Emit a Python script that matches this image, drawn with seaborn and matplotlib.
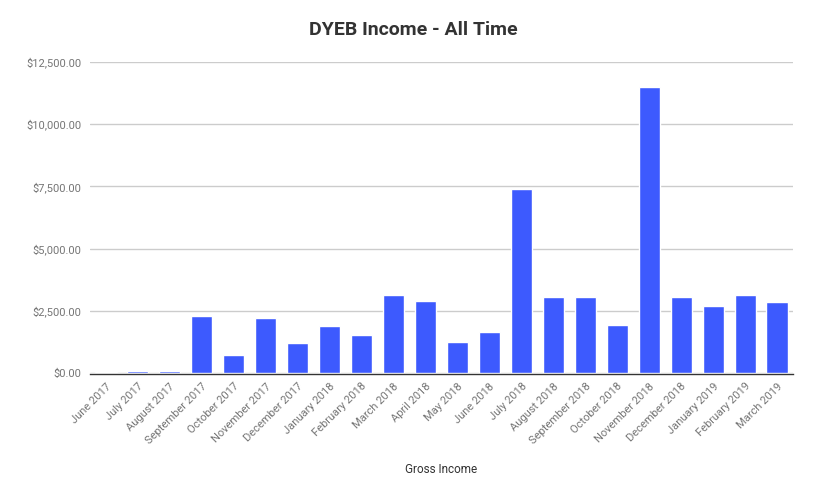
import matplotlib
matplotlib.use("Agg")
import matplotlib.pyplot as plt
import seaborn as sns
import pandas as pd
from matplotlib.ticker import FuncFormatter

months = ["June 2017", "July 2017", "August 2017", "September 2017", "October 2017",
          "November 2017", "December 2017", "January 2018", "February 2018", "March 2018",
          "April 2018", "May 2018", "June 2018", "July 2018", "August 2018",
          "September 2018", "October 2018", "November 2018", "December 2018",
          "January 2019", "February 2019", "March 2019"]
income = [50, 100, 100, 2290, 725, 2210, 1215, 1890, 1530, 3135,
          2895, 1245, 1650, 7395, 3055, 3055, 1930, 11485, 3055,
          2695, 3135, 2855]
yticks = [0, 2500, 5000, 7500, 10000, 12500]

sns.set_theme(style="white")
plt.rcParams['font.family'] = ['Roboto', 'DejaVu Sans']

df = pd.DataFrame({"Month": months, "Gross Income": income})

W, H = 814, 497
fig = plt.figure(figsize=(W / 100, H / 100), dpi=100)
left, right, top, bottom = 90, 793, 62, 373
ax = fig.add_axes([left / W, 1 - bottom / H, (right - left) / W, (bottom - top) / H])

sns.barplot(data=df, x="Month", y="Gross Income", color="#3d5afe", saturation=1,
            width=0.66, ax=ax, zorder=3)

ax.set_ylim(0, 12500)
ax.set_yticks(yticks)
ax.yaxis.set_major_formatter(FuncFormatter(lambda v, p: f"${v:,.2f}"))
ax.set_xlim(-0.5, len(months) - 0.5)
ax.grid(axis="y", color="#cccccc", linewidth=1)
ax.set_axisbelow(True)
for s in ["top", "right", "left"]:
    ax.spines[s].set_visible(False)
ax.spines["bottom"].set_color("#333333")
ax.spines["bottom"].set_linewidth(1.0)
ax.spines["bottom"].set_position(("outward", 0.9))
ax.tick_params(axis="y", length=0, labelsize=8, labelcolor="#757575", pad=6)
ax.tick_params(axis="x", length=0, labelsize=8, labelcolor="#757575", pad=5)
ax.set_xticks(range(len(months)))
ax.set_xticklabels(months, rotation=45, ha="right", rotation_mode="anchor")
ax.set_ylabel("")
ax.set_xlabel("Gross Income", fontsize=8.5, color="#333333", labelpad=12)
fig.suptitle("DYEB Income - All Time", x=0.508, y=0.957, fontsize=14,
             fontweight="bold", color="#333333")

fig.savefig("out.png", dpi=100)
